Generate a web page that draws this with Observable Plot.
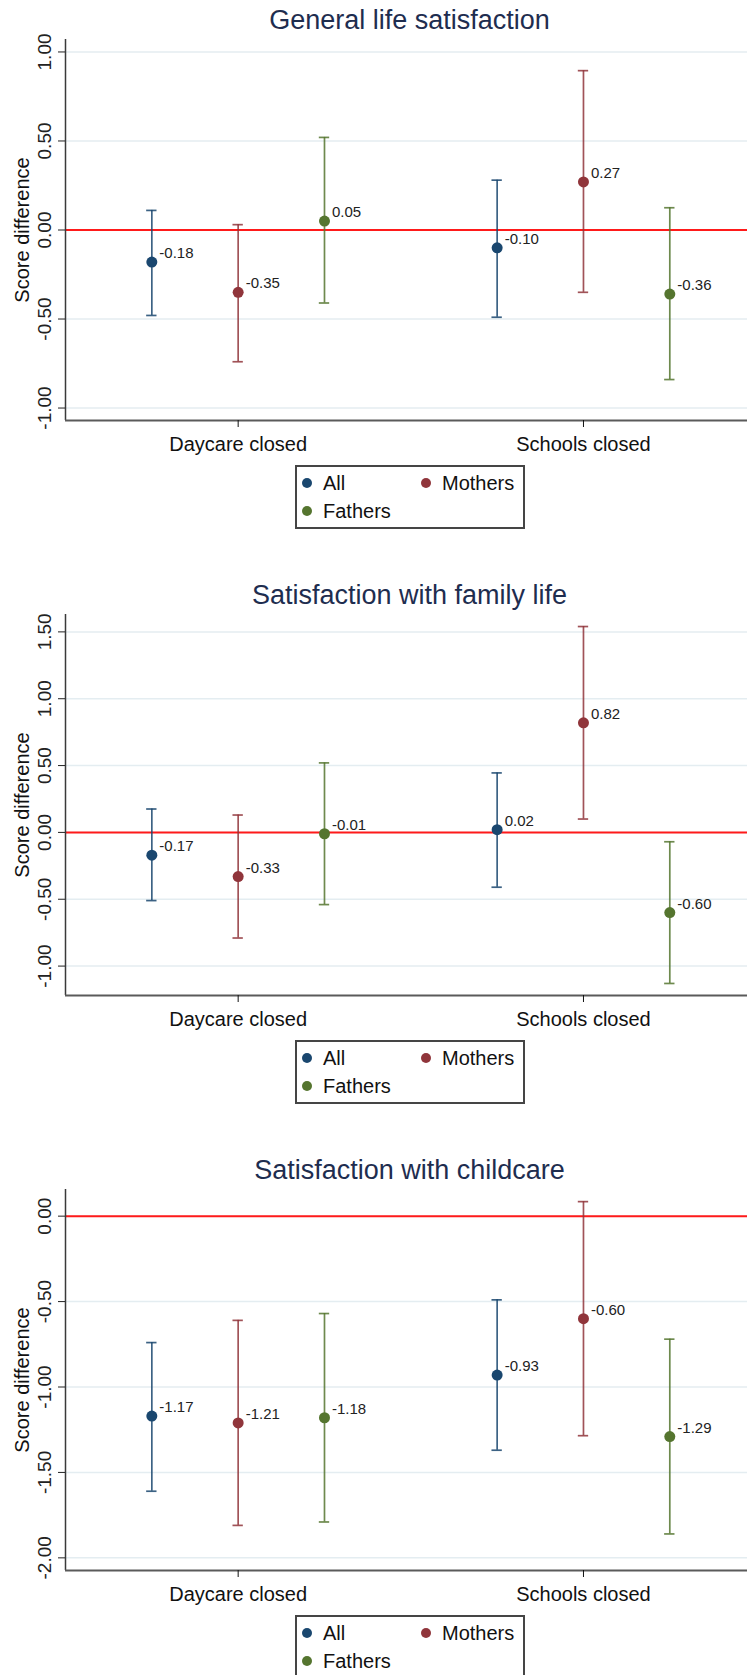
<!DOCTYPE html>
<html>
<head>
<meta charset="utf-8">
<script src="https://cdn.jsdelivr.net/npm/d3@7"></script>
<script src="https://cdn.jsdelivr.net/npm/@observablehq/plot@0.6"></script>
<style>
  html, body { margin: 0; padding: 0; background: #ffffff; }
  body { width: 747px; height: 1675px; overflow: hidden; font-family: "Liberation Sans", Arial, sans-serif; }
  .panel { position: relative; width: 747px; height: 575px; }
  .title { position: absolute; left: 72px; right: 0; top: 7px; text-align: center; font-size: 27px; line-height: 27px; color: #1e2d4f; white-space: nowrap; }
  .chart { position: absolute; left: 0; top: 37px; }
  .legend { position: absolute; left: 295px; top: 465px; width: 230px; height: 64px; box-sizing: border-box; border: 2px solid #454545; background: #fff; }
  .item { position: absolute; display: flex; align-items: center; height: 20px; font-size: 20px; line-height: 20px; color: #111; white-space: nowrap; }
  .swatch { width: 10px; height: 10px; border-radius: 50%; margin-right: 11px; }
</style>
</head>
<body>
<div id="root"></div>
<script>
// ---- data ----
const categories = ["Daycare closed", "Schools closed"];
const series = ["All", "Mothers", "Fathers"];
const seriesColors = ["#1a476f", "#90353b", "#55752f"];
const yLabel = "Score difference";

const titles = ["General life satisfaction", "Satisfaction with family life", "Satisfaction with childcare"];

// values ordered: Daycare (All, Mothers, Fathers), Schools (All, Mothers, Fathers)
const est1 = [-0.18, -0.35, 0.05, -0.10, 0.27, -0.36];
const lo1  = [-0.48, -0.74, -0.41, -0.49, -0.35, -0.84];
const hi1  = [0.11, 0.03, 0.52, 0.28, 0.895, 0.125];
const ticks1 = [-1, -0.5, 0, 0.5, 1];
const domain1 = [-1.07, 1.07];

const est2 = [-0.17, -0.33, -0.01, 0.02, 0.82, -0.60];
const lo2  = [-0.51, -0.79, -0.54, -0.41, 0.10, -1.13];
const hi2  = [0.175, 0.13, 0.52, 0.445, 1.54, -0.07];
const ticks2 = [-1, -0.5, 0, 0.5, 1, 1.5];
const domain2 = [-1.22, 1.63];

const est3 = [-1.17, -1.21, -1.18, -0.93, -0.60, -1.29];
const lo3  = [-1.61, -1.81, -1.79, -1.37, -1.285, -1.86];
const hi3  = [-0.74, -0.61, -0.57, -0.49, 0.085, -0.72];
const ticks3 = [-2, -1.5, -1, -0.5, 0];
const domain3 = [-2.074, 0.156];

const panels = [
  {title: titles[0], est: est1, lo: lo1, hi: hi1, ticks: ticks1, domain: domain1},
  {title: titles[1], est: est2, lo: lo2, hi: hi2, ticks: ticks2, domain: domain2},
  {title: titles[2], est: est3, lo: lo3, hi: hi3, ticks: ticks3, domain: domain3}
];

const fmt = d => d.toFixed(2);
const capHalf = 0.06;

function render(cfg) {
  const panel = document.createElement("div");
  panel.className = "panel";

  const t = document.createElement("div");
  t.className = "title";
  t.textContent = cfg.title;
  panel.appendChild(t);

  const rows = [];
  categories.forEach((c, g) => series.forEach((s, k) => {
    const i = g * series.length + k;
    rows.push({category: c, series: s, pos: 1 + g * (series.length + 1) + k, est: cfg.est[i], lo: cfg.lo[i], hi: cfg.hi[i]});
  }));
  const catPos = categories.map((c, g) => 1 + g * (series.length + 1) + (series.length - 1) / 2);

  const chart = Plot.plot({
    width: 747,
    height: 423,
    marginLeft: 65,
    marginRight: 0,
    marginTop: 2,
    marginBottom: 40,
    style: {fontFamily: "'Liberation Sans', Arial, sans-serif", fontSize: "19px", color: "#222", background: "transparent", overflow: "visible"},
    x: {domain: [0, 7.9], axis: null},
    y: {domain: cfg.domain, axis: null},
    color: {domain: series, range: seriesColors},
    marks: [
      Plot.gridY(cfg.ticks, {stroke: "#e4edf1", strokeOpacity: 1, strokeWidth: 1.5}),
      Plot.ruleY([0], {stroke: "#ff1a1a", strokeWidth: 2}),
      Plot.ruleX([0], {stroke: "#3a3a3a", strokeWidth: 1.5}),
      Plot.ruleY([cfg.domain[0]], {stroke: "#5a5a5a", strokeWidth: 1.8}),
      Plot.axisY({ticks: cfg.ticks, tickFormat: fmt, tickRotate: -90, tickSize: 7, tickPadding: 8, fontSize: 19, label: null, color: "#222"}),
      Plot.axisX({ticks: catPos, tickFormat: d => categories[catPos.indexOf(d)], tickSize: 7, tickPadding: 9, fontSize: 20, label: null, color: "#111"}),
      Plot.text([yLabel], {text: d => d, frameAnchor: "left", rotate: -90, dx: -37, lineAnchor: "bottom", textAnchor: "middle", fontSize: 20, fill: "#111"}),
      Plot.ruleX(rows, {x: "pos", y1: "lo", y2: "hi", stroke: "series", strokeWidth: 1.7, strokeOpacity: 0.85}),
      Plot.ruleY(rows, {y: "lo", x1: d => d.pos - capHalf, x2: d => d.pos + capHalf, stroke: "series", strokeWidth: 1.7, strokeOpacity: 0.85}),
      Plot.ruleY(rows, {y: "hi", x1: d => d.pos - capHalf, x2: d => d.pos + capHalf, stroke: "series", strokeWidth: 1.7, strokeOpacity: 0.85}),
      Plot.dot(rows, {x: "pos", y: "est", fill: "series", r: 5.5}),
      Plot.text(rows, {x: "pos", y: "est", text: d => fmt(d.est), textAnchor: "start", lineAnchor: "bottom", dx: 7.5, dy: -4, fontSize: 15, fill: "#222"})
    ]
  });
  const wrap = document.createElement("div");
  wrap.className = "chart";
  wrap.appendChild(chart);
  panel.appendChild(wrap);

  const legend = document.createElement("div");
  legend.className = "legend";
  series.forEach((s, i) => {
    const col = i % 2, row = Math.floor(i / 2);
    const item = document.createElement("div");
    item.className = "item";
    item.style.left = (5 + col * 119) + "px";
    item.style.top = (6 + row * 28) + "px";
    const sw = document.createElement("span");
    sw.className = "swatch";
    sw.style.background = seriesColors[i];
    const tx = document.createElement("span");
    tx.textContent = s;
    item.appendChild(sw);
    item.appendChild(tx);
    legend.appendChild(item);
  });
  panel.appendChild(legend);
  return panel;
}

const root = document.getElementById("root");
panels.forEach(p => root.appendChild(render(p)));
</script>
</body>
</html>
